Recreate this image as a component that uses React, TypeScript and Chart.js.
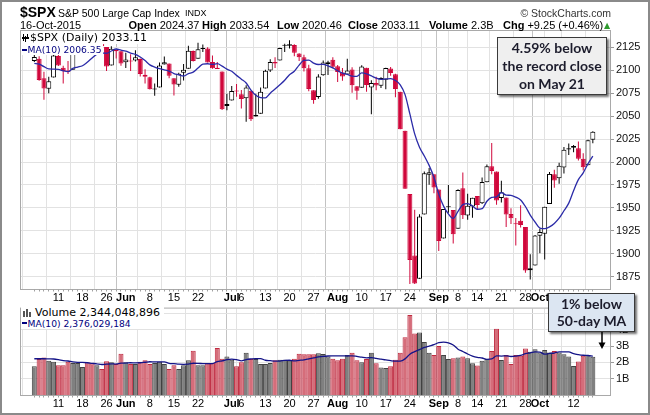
import React, { useEffect, useRef } from 'react';
import { Chart, registerables } from 'chart.js';

Chart.register(...registerables);

// ---------------- data ----------------
const mayDays = [4, 5, 6, 7, 8, 11, 12, 13, 14, 15, 18, 19, 20, 21, 22, 26, 27, 28, 29];
const junDays = [1, 2, 3, 4, 5, 8, 9, 10, 11, 12, 15, 16, 17, 18, 19, 22, 23, 24, 25, 26, 29, 30];
const julDays = [1, 2, 6, 7, 8, 9, 10, 13, 14, 15, 16, 17, 20, 21, 22, 23, 24, 27, 28, 29, 30, 31];
const augDays = [3, 4, 5, 6, 7, 10, 11, 12, 13, 14, 17, 18, 19, 20, 21, 24, 25, 26, 27, 28, 31];
const sepDays = [1, 2, 3, 4, 8, 9, 10, 11, 14, 15, 16, 17, 18, 21, 22, 23, 24, 25, 28, 29, 30];
const octDays = [1, 2, 5, 6, 7, 8, 9, 12, 13, 14, 15, 16];

const opens = [
  2110.23, 2112.63, 2091.26, 2079.96, 2092.13, 2115.56, 2102.87, 2099.62, 2100.43, 2122.07, 2121.3, 2129.45, 2127.79, 2125.55, 2130.36, 2125.34, 2105.13, 2122.27, 2120.66,
  2108.64, 2110.41, 2110.64, 2112.35, 2095.09, 2092.34, 2079.07, 2081.12, 2106.24, 2107.43, 2091.34, 2084.26, 2097.4, 2101.58, 2121.06, 2112.5, 2123.16, 2123.65, 2109.1, 2102.62, 2098.63, 2061.19,
  2067.0, 2078.03, 2073.95, 2069.52, 2077.66, 2049.73, 2052.74, 2080.03, 2099.72, 2109.01, 2110.55, 2126.8, 2126.85, 2127.55, 2118.21, 2114.16, 2102.24, 2078.19, 2070.75, 2094.7, 2106.78, 2111.6,
  2104.49, 2097.68, 2095.27, 2100.75, 2082.61, 2080.98, 2102.66, 2081.1, 2086.19, 2083.15, 2089.7, 2101.99, 2095.69, 2076.61, 2034.08, 1965.15, 1898.08, 1872.75, 1942.77, 1986.06, 1986.73,
  1970.09, 1916.52, 1950.79, 1947.76, 1927.3, 1971.45, 1941.59, 1951.45, 1963.06, 1955.1, 1978.02, 1995.33, 1989.66, 1960.84, 1961.39, 1943.24, 1932.24, 1935.93, 1929.18, 1881.9, 1887.14,
  1919.65, 1921.77, 1954.33, 1986.63, 1982.34, 1994.01, 2013.73, 2015.65, 2015.0, 2003.66, 1996.47, 2024.37,
];
const highs = [
  2120.95, 2115.24, 2098.42, 2092.9, 2117.66, 2117.69, 2105.06, 2110.19, 2121.45, 2123.89, 2131.78, 2133.02, 2134.72, 2134.28, 2132.15, 2125.34, 2126.22, 2122.27, 2120.66,
  2119.15, 2117.59, 2121.92, 2112.89, 2100.99, 2093.01, 2085.62, 2108.5, 2115.02, 2107.43, 2091.34, 2097.4, 2106.79, 2126.65, 2121.64, 2129.87, 2128.03, 2125.1, 2116.04, 2108.92, 2098.63, 2074.28,
  2082.78, 2085.06, 2078.61, 2083.74, 2077.66, 2074.28, 2081.31, 2100.67, 2111.98, 2114.14, 2124.42, 2128.91, 2132.82, 2128.41, 2118.51, 2116.87, 2106.01, 2078.19, 2095.6, 2110.6, 2110.48, 2114.24,
  2105.7, 2102.51, 2112.66, 2103.32, 2082.61, 2105.35, 2102.66, 2089.06, 2092.93, 2092.45, 2102.87, 2103.47, 2096.17, 2076.61, 2034.08, 1965.15, 1948.04, 1943.09, 1989.6, 1993.48, 1986.73,
  1970.09, 1948.91, 1975.01, 1947.76, 1970.42, 1988.63, 1965.29, 1961.05, 1963.06, 1983.19, 1997.26, 2020.86, 1989.66, 1979.64, 1961.39, 1949.52, 1938.88, 1952.89, 1929.18, 1899.48, 1920.53,
  1927.21, 1951.36, 1989.17, 1991.62, 1999.31, 2016.5, 2020.13, 2018.66, 2022.34, 2009.56, 2024.15, 2033.54,
];
const lows = [
  2108.9, 2088.46, 2067.93, 2074.99, 2092.13, 2104.58, 2085.57, 2096.04, 2100.43, 2116.81, 2120.01, 2124.5, 2122.59, 2122.95, 2126.06, 2099.18, 2105.13, 2112.86, 2104.89,
  2102.54, 2099.14, 2109.61, 2093.23, 2085.67, 2079.11, 2072.14, 2081.12, 2106.24, 2091.33, 2072.49, 2082.1, 2088.86, 2101.58, 2109.45, 2112.5, 2119.89, 2108.58, 2101.78, 2101.3, 2056.64, 2056.32,
  2067.0, 2071.02, 2058.4, 2044.02, 2044.66, 2049.73, 2052.74, 2080.03, 2098.18, 2102.49, 2110.55, 2119.88, 2123.66, 2115.4, 2110.0, 2098.63, 2077.09, 2063.52, 2069.09, 2094.08, 2094.97, 2102.07,
  2087.31, 2088.6, 2095.27, 2075.53, 2067.91, 2080.98, 2076.49, 2052.09, 2078.26, 2080.61, 2079.3, 2094.14, 2070.53, 2035.73, 1970.89, 1867.01, 1867.08, 1872.75, 1942.77, 1975.19, 1965.98,
  1903.07, 1916.52, 1944.72, 1911.21, 1927.3, 1937.88, 1937.19, 1939.19, 1948.27, 1954.3, 1977.93, 1986.73, 1953.45, 1955.8, 1929.22, 1932.57, 1908.91, 1928.75, 1879.21, 1871.91, 1887.14,
  1900.7, 1893.7, 1954.33, 1971.99, 1976.44, 1987.53, 2007.61, 2010.55, 2001.78, 1990.73, 1996.47, 2020.46,
];
const closes = [
  2114.49, 2089.46, 2080.15, 2088.0, 2116.1, 2105.33, 2099.12, 2098.48, 2121.1, 2122.73, 2129.2, 2127.83, 2125.85, 2130.82, 2126.06, 2104.2, 2123.48, 2120.79, 2107.39,
  2111.73, 2109.6, 2114.07, 2095.84, 2092.83, 2079.28, 2080.15, 2105.2, 2108.86, 2094.11, 2084.43, 2096.29, 2100.44, 2121.24, 2109.99, 2122.85, 2124.2, 2108.58, 2102.31, 2101.49, 2057.64, 2063.11,
  2077.42, 2076.78, 2068.76, 2081.34, 2046.68, 2051.31, 2076.62, 2099.6, 2108.95, 2107.4, 2124.29, 2126.64, 2128.28, 2119.21, 2114.15, 2102.15, 2079.65, 2067.64, 2093.25, 2108.57, 2108.63, 2103.84,
  2098.04, 2093.32, 2099.84, 2083.56, 2077.57, 2104.18, 2084.07, 2086.05, 2083.39, 2091.54, 2102.44, 2096.92, 2079.61, 2035.73, 1970.89, 1893.21, 1867.61, 1940.51, 1987.66, 1988.87, 1972.18,
  1913.85, 1948.86, 1951.13, 1921.22, 1969.41, 1942.04, 1952.29, 1961.05, 1953.03, 1978.09, 1995.31, 1990.2, 1958.03, 1966.97, 1942.74, 1938.76, 1932.24, 1931.34, 1881.77, 1884.09, 1920.03,
  1923.82, 1951.36, 1987.05, 1979.92, 1995.83, 2013.43, 2014.89, 2017.46, 2003.69, 1994.24, 2023.86, 2033.11,
];
// volume in billions of shares
const volumes = [
  1.76, 2.2, 2.29, 2.1, 2.04, 1.82, 1.82, 2.04, 1.96, 1.96, 1.71, 2.0, 1.94, 1.82, 1.59, 2.06, 2.0, 1.9, 2.53,
  2.0, 1.9, 1.9, 2.04, 2.12, 1.9, 1.96, 2.04, 1.9, 1.59, 1.82, 1.59, 1.82, 2.12, 2.71, 1.82, 1.82, 1.96, 1.96, 2.88, 2.22, 2.35,
  2.16, 1.76, 2.0, 2.59, 2.2, 2.2, 1.9, 1.9, 1.96, 2.12, 2.16, 2.16, 2.1, 2.22, 2.53, 2.49, 2.49, 2.49, 2.55, 2.51, 2.35, 2.22,
  2.12, 2.22, 2.45, 2.59, 2.12, 2.0, 2.2, 2.59, 1.94, 1.69, 1.65, 1.76, 2.16, 2.59, 3.53, 4.9, 3.76, 3.82, 3.24, 2.59, 2.45,
  3.0, 2.45, 2.2, 2.25, 2.3, 2.35, 2.25, 1.95, 1.8, 2.1, 2.2, 2.7, 4.06, 2.15, 2.45, 1.9, 2.45, 2.4, 2.85, 2.65, 2.8,
  2.6, 2.75, 2.6, 2.7, 2.6, 2.5, 2.35, 1.78, 2.05, 2.4, 2.45, 2.344,
];
// the nine sessions before the first one shown (needed for the 10-day averages)
const priorCloses = [2097.29, 2107.96, 2112.93, 2117.69, 2108.92, 2114.76, 2106.85, 2085.51, 2108.29];
const priorVolumes = [2.2, 2.3, 2.2, 2.1, 2.2, 2.4, 2.3, 2.5, 2.24];

const tickDates = ['5-4', '5-11', '5-18', '5-26', '6-1', '6-8', '6-15', '6-22', '6-29', '7-1', '7-6', '7-13', '7-20', '7-27', '8-3', '8-10', '8-17', '8-24', '8-31', '9-1', '9-8', '9-14', '9-21', '9-28', '10-1', '10-5', '10-12'];
const tickLabels = ['', '11', '18', '26', 'Jun', '8', '15', '22', '', 'Jul', '6', '13', '20', '27', 'Aug', '10', '17', '24', '', 'Sep', '8', '14', '21', '28', 'Oct', '', '12'];
const monthTickDates = ['6-1', '7-1', '8-3', '9-1', '10-1'];
const priceTicks = [1875, 1900, 1925, 1950, 1975, 2000, 2025, 2050, 2075, 2100, 2125];
const volumeTicks = [1, 2, 3, 4, 5];

// ---------------- derived ----------------
const categories: string[] = [];
[[5, mayDays], [6, junDays], [7, julDays], [8, augDays], [9, sepDays], [10, octDays]].forEach(([m, days]: any) => {
  days.forEach((d: number) => categories.push(`${m}-${d}`));
});
const N = closes.length;
const idx = closes.map((_, i) => i);
const tickIdx = tickDates.map((d) => categories.indexOf(d));
const labelByIdx = new Map<number, string>();
tickIdx.forEach((t, k) => labelByIdx.set(t, tickLabels[k]));
const monthIdx = new Set(monthTickDates.map((d) => categories.indexOf(d)));

const allCloses = priorCloses.concat(closes);
const allVols = priorVolumes.concat(volumes);
const ma10 = (arr: number[], i: number) => arr.slice(i, i + 10).reduce((a, b) => a + b, 0) / 10;
const maClose = idx.map((i) => ma10(allCloses, i));
const maVol = idx.map((i) => ma10(allVols, i));
const isDown = idx.map((i) => closes[i] < allCloses[i + 8]);
const isFilled = idx.map((i) => closes[i] < opens[i]);

const RED = '#d0073b';
const candleColor = idx.map((i) => (isDown[i] ? RED : '#000000'));

const FONT_ARIAL = '"Liberation Sans", Arial, sans-serif';
const FONT_DEJAVU = '"DejaVu Sans", Verdana, sans-serif';
const FONT_BOX = 'Lato, "Open Sans", sans-serif';

const PLOT_L = 21;
const PLOT_R = 610;
const DAY_PX = 5;
const SPAN = (PLOT_R - PLOT_L) / DAY_PX;
const X_MIN = -0.5;

const framePlugin = {
  id: 'frame',
  afterDatasetsDraw(chart: any) {
    const { ctx, chartArea: a } = chart;
    ctx.save();
    ctx.strokeStyle = '#a9a9a9';
    ctx.lineWidth = 1;
    ctx.strokeRect(a.left - 0.5, a.top - 0.5, a.right - a.left + 1, a.bottom - a.top + 1);
    const xs = chart.scales.x;
    ctx.strokeStyle = '#a0a0a0';
    ctx.beginPath();
    for (let i = 0; i < N; i++) {
      const px = Math.floor(xs.getPixelForValue(i)) + 0.5;
      ctx.moveTo(px, a.bottom + 0.5);
      ctx.lineTo(px, a.bottom + 2.5);
    }
    ctx.stroke();
    ctx.restore();
  },
};

const xAxis = (height: number) => ({
  type: 'linear',
  min: X_MIN,
  max: X_MIN + SPAN,
  afterBuildTicks: (s: any) => {
    s.ticks = tickIdx.map((v) => ({ value: v }));
  },
  afterFit: (s: any) => {
    s.height = height;
  },
  grid: {
    color: (c: any) => (c.tick && monthIdx.has(c.tick.value) ? '#c3c3c3' : '#e2e2e2'),
    drawTicks: false,
    lineWidth: 1,
  },
  border: { display: false },
  ticks: {
    autoSkip: false,
    maxRotation: 0,
    minRotation: 0,
    padding: 2,
    color: '#000',
    callback: (v: any) => labelByIdx.get(v) ?? '',
    font: (c: any) => ({
      family: FONT_ARIAL,
      size: 11,
      weight: c.tick && monthIdx.has(c.tick.value) ? 'bold' : 'normal',
    }),
  },
});

const yAxis = (min: number, max: number, ticks: number[], fmt: (v: number) => string) => ({
  position: 'right',
  min,
  max,
  afterBuildTicks: (s: any) => {
    s.ticks = ticks.map((v) => ({ value: v }));
  },
  afterFit: (s: any) => {
    s.width = 650 - PLOT_R;
  },
  grid: { color: '#e2e2e2', tickLength: 4, tickColor: '#9a9a9a', drawTicks: true },
  border: { display: false },
  ticks: { padding: 2, color: '#111', font: { family: FONT_ARIAL, size: 11 }, callback: (v: any) => fmt(v) },
});

const baseOptions = (padTop: number) => ({
  animation: false,
  responsive: false,
  devicePixelRatio: 1,
  events: [],
  layout: { padding: { left: PLOT_L, top: padTop, right: 0, bottom: 0 } },
  plugins: { legend: { display: false }, tooltip: { enabled: false } },
});

function priceConfig(): any {
  return {
    type: 'bar',
    data: {
      datasets: [
        {
          type: 'line',
          data: idx.map((i) => ({ x: i, y: maClose[i] })),
          borderColor: '#2b2ba8',
          borderWidth: 1.3,
          pointRadius: 0,
          cubicInterpolationMode: 'monotone',
          order: 0,
        },
        {
          type: 'bar',
          data: idx.map((i) => ({ x: i, y: [opens[i], closes[i]] })),
          backgroundColor: idx.map((i) => (isFilled[i] ? candleColor[i] : '#ffffff')),
          borderColor: candleColor,
          borderWidth: 1,
          borderSkipped: false,
          inflateAmount: 0,
          barThickness: 5,
          minBarLength: 1,
          grouped: false,
          order: 1,
        },
        {
          type: 'bar',
          data: idx.map((i) => ({ x: i, y: [lows[i], highs[i]] })),
          backgroundColor: candleColor,
          borderWidth: 0,
          inflateAmount: 0,
          barThickness: 1,
          minBarLength: 1,
          grouped: false,
          order: 2,
        },
      ],
    },
    options: {
      ...baseOptions(31),
      scales: {
        x: xAxis(16),
        y: yAxis(1861.6, 2142.8, priceTicks, (v) => String(v)),
      },
    },
    plugins: [framePlugin],
  };
}

function volumeConfig(): any {
  return {
    type: 'bar',
    data: {
      datasets: [
        {
          type: 'line',
          data: idx.map((i) => ({ x: i, y: maVol[i] })),
          borderColor: '#141488',
          borderWidth: 1.3,
          pointRadius: 0,
          cubicInterpolationMode: 'monotone',
          order: 0,
        },
        {
          type: 'bar',
          data: idx.map((i) => ({ x: i, y: volumes[i] })),
          backgroundColor: idx.map((i) => (isDown[i] ? '#d56d7a' : '#808080')),
          borderColor: idx.map((i) => (isDown[i] ? '#bf2a40' : '#424242')),
          borderWidth: 1,
          inflateAmount: 0,
          barThickness: 5,
          grouped: false,
          order: 1,
        },
      ],
    },
    options: {
      ...baseOptions(5),
      scales: {
        x: xAxis(20),
        y: yAxis(0, 5.29, volumeTicks, (v) => `${v}B`),
      },
    },
    plugins: [framePlugin],
  };
}

// ---------------- text helpers ----------------
function Txt(props: any) {
  const { x, right, base, size = 11, bold = false, color = '#000', family = FONT_ARIAL, children } = props;
  const style: any = {
    position: 'absolute',
    top: base - 0.846 * size,
    fontSize: size,
    lineHeight: `${size}px`,
    fontFamily: family,
    fontWeight: bold ? 700 : 400,
    color,
    whiteSpace: 'pre',
  };
  if (right !== undefined) style.right = right;
  else style.left = x;
  return <div style={style}>{children}</div>;
}

const abs = (l: number, t: number, w: number, h: number, extra: any = {}) => ({
  position: 'absolute' as const,
  left: l,
  top: t,
  width: w,
  height: h,
  ...extra,
});

export default function App() {
  const priceRef = useRef<HTMLCanvasElement>(null);
  const volRef = useRef<HTMLCanvasElement>(null);

  useEffect(() => {
    Chart.defaults.font.family = FONT_ARIAL;
    const pc = new Chart(priceRef.current as HTMLCanvasElement, priceConfig());
    const vc = new Chart(volRef.current as HTMLCanvasElement, volumeConfig());
    return () => {
      pc.destroy();
      vc.destroy();
    };
  }, []);

  const navy = '#000080';

  return (
    <div style={{ position: 'fixed', left: 0, top: 0, width: 650, height: 415, background: '#fff', overflow: 'hidden', fontFamily: FONT_ARIAL }}>
      <canvas ref={priceRef} width={650} height={305} style={{ position: 'absolute', left: 0, top: 0 }} />
      <canvas ref={volRef} width={650} height={115} style={{ position: 'absolute', left: 0, top: 300 }} />

      {/* header */}
      <Txt x={20} base={17.3} size={14} bold>$SPX</Txt>
      <Txt x={58} base={16.7} size={10.5}>{'S&P 500 Large Cap Index'}</Txt>
      <Txt x={185} base={16.7} size={9}>INDX</Txt>
      <Txt right={39} base={16.7} size={10.5} color="#333">© StockCharts.com</Txt>
      <Txt x={20} base={29.3} size={11}>16-Oct-2015</Txt>
      <Txt x={128.5} base={29.3} size={11}><b>Open</b> 2024.37</Txt>
      <Txt x={202} base={29.3} size={11}><b>High</b> 2033.54</Txt>
      <Txt x={277} base={29.3} size={11}><b>Low</b> 2020.46</Txt>
      <Txt x={348} base={29.3} size={11}><b>Close</b> 2033.11</Txt>
      <Txt x={429} base={29.3} size={11}><b>Volume</b> 2.3B</Txt>
      <Txt x={503} base={29.3} size={11}><b>Chg</b> +9.25 (+0.46%)</Txt>
      <Txt x={604} base={28.5} size={8} color="#2e9a2e" family={FONT_DEJAVU}>▲</Txt>

      {/* price legend */}
      <div style={abs(21, 31, 132, 13, { background: '#fff' })} />
      <div style={abs(21, 44, 82, 11, { background: '#fff' })} />
      <div style={abs(23, 34, 1, 7, { background: '#000' })} />
      <div style={abs(25, 36, 1, 6, { background: '#000' })} />
      <div style={abs(27, 34, 1, 5, { background: '#000' })} />
      <div style={abs(22, 37, 7, 2, { background: '#000' })} />
      <Txt x={30} base={41.7} size={11} family={FONT_DEJAVU}>$SPX (Daily) 2033.11</Txt>
      <div style={abs(22, 49, 5, 2, { background: navy })} />
      <Txt x={27.5} base={53.2} size={9.2} family={FONT_DEJAVU} color={navy}>MA(10) 2006.35</Txt>

      {/* volume legend */}
      <div style={abs(21, 306, 143, 23, { background: '#fff' })} />
      <div style={abs(23, 311, 2, 6, { background: '#555' })} />
      <div style={abs(26, 309, 2, 8, { background: '#555' })} />
      <div style={abs(29, 312, 2, 5, { background: '#555' })} />
      <Txt x={35} base={316.7} size={11} family={FONT_DEJAVU}>Volume 2,344,048,896</Txt>
      <div style={abs(22, 322, 5, 2, { background: navy })} />
      <Txt x={27.5} base={326.9} size={9.2} family={FONT_DEJAVU} color={navy}>MA(10) 2,376,029,184</Txt>

      {/* annotation boxes */}
      <div
        style={abs(497, 37, 110, 58, {
          boxSizing: 'border-box',
          background: '#efefef',
          border: '1px solid #3a3a3a',
          boxShadow: '2px 2px 2px rgba(0,0,0,0.55)',
          textAlign: 'center',
          fontFamily: FONT_BOX,
          fontWeight: 700,
          fontSize: 14,
          lineHeight: '18px',
          color: '#1c1c2c',
          paddingTop: 1,
          whiteSpace: 'nowrap',
        })}
      >
        4.59% below
        <br />
        the record close
        <br />
        on May 21
      </div>
      <div
        style={abs(548, 293, 87, 39, {
          boxSizing: 'border-box',
          background: '#dce6f2',
          border: '1px solid #3a3a3a',
          boxShadow: '2px 2px 2px rgba(0,0,0,0.55)',
          textAlign: 'center',
          fontFamily: FONT_BOX,
          fontWeight: 700,
          fontSize: 14,
          lineHeight: '17px',
          color: '#1c1c2c',
          paddingTop: 1,
          whiteSpace: 'nowrap',
        })}
      >
        1% below
        <br />
        50-day MA
      </div>
      <svg style={abs(596, 332, 12, 18)} width={12} height={18}>
        <line x1={6} y1={0} x2={6} y2={12} stroke="#000" strokeWidth={1.5} />
        <polygon points="2.5,10.5 9.5,10.5 6,17" fill="#000" />
      </svg>

      {/* outer frame */}
      <div style={abs(0, 0, 650, 415, { boxSizing: 'border-box', border: '2px solid #8a8a8a', pointerEvents: 'none' })} />
    </div>
  );
}
